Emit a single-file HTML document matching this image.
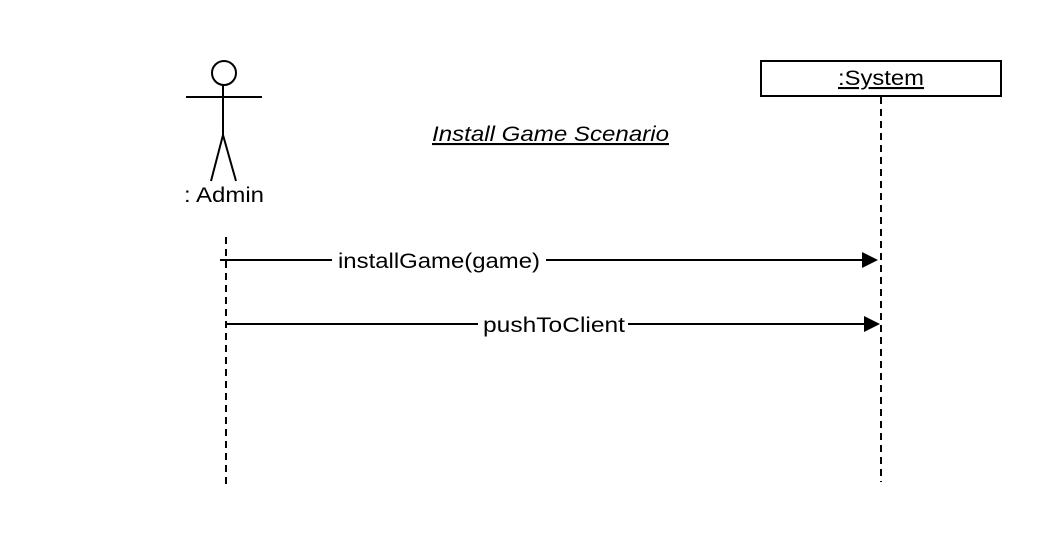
<!DOCTYPE html>
<html><head><style>body{margin:0;background:#fff}</style></head><body>
<svg width="1044" height="540" xmlns="http://www.w3.org/2000/svg" font-family="Liberation Sans, Arial, sans-serif">
<rect width="1044" height="540" fill="#fff"/>
<circle cx="224" cy="73" r="12" fill="none" stroke="#000" stroke-width="2"/>
<line x1="186" y1="97" x2="262" y2="97" stroke="#000" stroke-width="2"/>
<line x1="223" y1="85" x2="223" y2="135" stroke="#000" stroke-width="2"/>
<line x1="223" y1="135" x2="211" y2="181" stroke="#000" stroke-width="2"/>
<line x1="223" y1="135" x2="236" y2="181" stroke="#000" stroke-width="2"/>
<text x="184" y="202" font-size="21" textLength="80" lengthAdjust="spacingAndGlyphs">: Admin</text>
<line x1="226" y1="237" x2="226" y2="486" stroke="#000" stroke-width="2" stroke-dasharray="7,5"/>
<rect x="761" y="61" width="240" height="35" fill="#fff" stroke="#000" stroke-width="2"/>
<text x="838" y="85" font-size="21" text-decoration="underline" textLength="86" lengthAdjust="spacingAndGlyphs">:System</text>
<line x1="881" y1="97" x2="881" y2="482" stroke="#000" stroke-width="2" stroke-dasharray="7,5"/>
<text x="432" y="141" font-size="21" font-style="italic" text-decoration="underline" textLength="237" lengthAdjust="spacingAndGlyphs">Install Game Scenario</text>
<line x1="220" y1="260" x2="864" y2="260" stroke="#000" stroke-width="2"/>
<polygon points="862,252 878,260 862,268" fill="#000"/>
<rect x="332" y="248" width="214" height="24" fill="#fff"/>
<text x="338" y="268" font-size="21" textLength="202" lengthAdjust="spacingAndGlyphs">installGame(game)</text>
<line x1="226" y1="324" x2="866" y2="324" stroke="#000" stroke-width="2"/>
<polygon points="864,316 880,324 864,332" fill="#000"/>
<rect x="478" y="312" width="150" height="24" fill="#fff"/>
<text x="483" y="332" font-size="21" textLength="142" lengthAdjust="spacingAndGlyphs">pushToClient</text>
</svg>
</body></html>
